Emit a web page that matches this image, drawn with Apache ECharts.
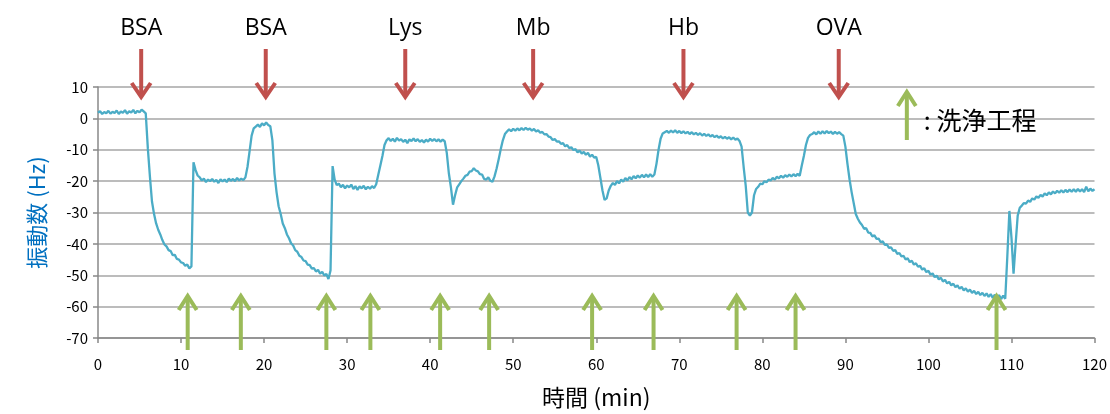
<!DOCTYPE html>
<html>
<head>
<meta charset="utf-8">
<script src="https://cdn.jsdelivr.net/npm/echarts@6/dist/echarts.min.js"></script>
<style>
html,body{margin:0;padding:0;background:#fff;}
#chart{width:1110px;height:414px;}
</style>
</head>
<body>
<div id="chart"></div>
<script>
// ---- data ----
const SAMPLE_START_MIN = 0;
const SAMPLE_STEP_MIN = 0.25;
// frequency shift (Hz), one row per minute (4 samples each)
const freqHz = [
  /*  0 */ 1.8, 2.3, 1.4, 2.0,
  /*  1 */ 1.6, 2.4, 1.5, 2.1,
  /*  2 */ 1.7, 2.5, 1.4, 2.2,
  /*  3 */ 1.8, 2.6, 1.5, 2.3,
  /*  4 */ 1.9, 2.7, 1.6, 2.4,
  /*  5 */ 1.9, 2.8, 2.2, 1.6,
  /*  6 */ -9.5, -18.5, -26.5, -30.5,
  /*  7 */ -33.5, -35.5, -37.0, -38.8,
  /*  8 */ -40.2, -40.8, -42.0, -42.3,
  /*  9 */ -43.6, -43.5, -44.8, -45.0,
  /* 10 */ -45.9, -46.1, -47.0, -46.6,
  /* 11 */ -47.8, -47.2, -14.0, -16.5,
  /* 12 */ -18.2, -18.8, -19.8, -19.2,
  /* 13 */ -20.3, -19.5, -20.0, -19.3,
  /* 14 */ -20.2, -19.6, -20.6, -19.4,
  /* 15 */ -20.1, -19.5, -20.3, -19.2,
  /* 16 */ -19.9, -19.3, -20.0, -19.0,
  /* 17 */ -19.8, -19.2, -19.7, -18.8,
  /* 18 */ -15.5, -10.5, -5.5, -3.2,
  /* 19 */ -2.6, -2.0, -2.7, -1.6,
  /* 20 */ -2.2, -1.3, -2.1, -2.5,
  /* 21 */ -7.0, -17.5, -23.5, -28.0,
  /* 22 */ -30.5, -33.5, -35.0, -37.0,
  /* 23 */ -38.2, -39.8, -40.5, -42.0,
  /* 24 */ -42.5, -43.8, -44.2, -45.3,
  /* 25 */ -45.5, -46.6, -46.8, -47.9,
  /* 26 */ -47.7, -48.8, -48.3, -49.5,
  /* 27 */ -48.9, -50.1, -49.6, -51.2,
  /* 28 */ -48.5, -15.2, -19.5, -21.3,
  /* 29 */ -20.8, -21.9, -21.2, -22.3,
  /* 30 */ -21.4, -22.0, -21.1, -22.5,
  /* 31 */ -21.6, -22.8, -21.7, -22.3,
  /* 32 */ -21.5, -22.6, -21.8, -22.4,
  /* 33 */ -21.6, -22.2, -21.0, -18.0,
  /* 34 */ -15.0, -12.0, -8.5, -7.0,
  /* 35 */ -6.3, -7.2, -6.5, -7.4,
  /* 36 */ -6.2, -7.1, -6.6, -7.5,
  /* 37 */ -6.8, -7.9, -6.7, -7.2,
  /* 38 */ -6.4, -7.3, -6.6, -7.5,
  /* 39 */ -6.9, -7.7, -6.8, -7.4,
  /* 40 */ -6.5, -7.2, -6.6, -7.3,
  /* 41 */ -6.7, -7.4, -6.8, -7.3,
  /* 42 */ -11.0, -17.5, -22.0, -27.5,
  /* 43 */ -24.5, -22.0, -21.0, -20.0,
  /* 44 */ -19.2, -18.3, -18.0, -17.0,
  /* 45 */ -16.8, -15.9, -16.6, -16.9,
  /* 46 */ -17.8, -17.9, -19.3, -19.5,
  /* 47 */ -18.8, -19.9, -20.2, -18.5,
  /* 48 */ -16.0, -13.0, -9.8, -7.0,
  /* 49 */ -5.0, -4.2, -3.5, -4.1,
  /* 50 */ -3.3, -3.9, -3.2, -3.8,
  /* 51 */ -3.1, -3.7, -3.0, -3.6,
  /* 52 */ -3.2, -3.9, -3.4, -4.2,
  /* 53 */ -3.8, -4.6, -4.3, -5.1,
  /* 54 */ -5.0, -5.8, -6.0, -6.9,
  /* 55 */ -6.6, -7.4, -7.3, -8.1,
  /* 56 */ -7.9, -8.9, -8.5, -9.5,
  /* 57 */ -9.2, -10.1, -9.8, -10.8,
  /* 58 */ -10.3, -11.2, -10.7, -11.6,
  /* 59 */ -11.0, -12.2, -11.6, -12.5,
  /* 60 */ -12.3, -15.0, -19.0, -23.0,
  /* 61 */ -26.0, -25.5, -23.0, -21.5,
  /* 62 */ -20.6, -21.2, -20.0, -20.7,
  /* 63 */ -19.5, -20.2, -19.0, -19.8,
  /* 64 */ -18.7, -19.4, -18.4, -19.1,
  /* 65 */ -18.2, -18.9, -18.0, -18.8,
  /* 66 */ -17.9, -18.7, -17.8, -18.6,
  /* 67 */ -17.9, -14.5, -10.0, -6.5,
  /* 68 */ -4.8, -4.4, -4.0, -4.6,
  /* 69 */ -3.9, -4.5, -3.8, -4.6,
  /* 70 */ -4.0, -4.7, -4.1, -4.8,
  /* 71 */ -4.3, -5.0, -4.4, -5.1,
  /* 72 */ -4.6, -5.3, -4.7, -5.5,
  /* 73 */ -4.9, -5.6, -5.1, -5.8,
  /* 74 */ -5.3, -6.0, -5.5, -6.2,
  /* 75 */ -5.7, -6.4, -5.9, -6.5,
  /* 76 */ -6.0, -6.7, -6.1, -6.8,
  /* 77 */ -6.4, -7.2, -9.0, -15.5,
  /* 78 */ -21.5, -30.0, -31.0, -30.0,
  /* 79 */ -24.5, -22.5, -21.8, -20.8,
  /* 80 */ -21.0, -20.0, -20.4, -19.5,
  /* 81 */ -19.8, -19.0, -19.5, -18.6,
  /* 82 */ -19.1, -18.3, -18.9, -18.1,
  /* 83 */ -18.6, -17.9, -18.5, -17.8,
  /* 84 */ -18.4, -17.7, -18.3, -15.0,
  /* 85 */ -12.0, -8.5, -6.2, -5.3,
  /* 86 */ -5.0, -4.4, -5.1, -4.2,
  /* 87 */ -4.9, -4.1, -4.8, -4.0,
  /* 88 */ -4.7, -4.2, -5.0, -4.3,
  /* 89 */ -4.9, -4.4, -5.0, -5.5,
  /* 90 */ -9.0, -14.5, -19.4, -23.5,
  /* 91 */ -27.0, -30.5, -32.0, -33.2,
  /* 92 */ -34.0, -35.2, -35.0, -36.4,
  /* 93 */ -36.5, -37.6, -37.3, -38.4,
  /* 94 */ -38.3, -39.5, -39.2, -40.3,
  /* 95 */ -40.2, -41.3, -41.1, -42.2,
  /* 96 */ -42.0, -43.2, -42.9, -44.0,
  /* 97 */ -43.8, -45.0, -44.6, -45.8,
  /* 98 */ -45.4, -46.6, -46.2, -47.3,
  /* 99 */ -47.0, -48.2, -47.8, -49.0,
  /*100 */ -48.6, -49.8, -49.4, -50.6,
  /*101 */ -50.1, -51.3, -50.8, -52.0,
  /*102 */ -51.5, -52.6, -52.1, -53.2,
  /*103 */ -52.7, -53.8, -53.2, -54.3,
  /*104 */ -53.7, -54.8, -54.2, -55.2,
  /*105 */ -54.6, -55.6, -55.0, -56.0,
  /*106 */ -55.3, -56.3, -55.6, -56.6,
  /*107 */ -55.8, -56.9, -56.0, -57.2,
  /*108 */ -56.2, -57.4, -56.3, -57.6,
  /*109 */ -56.5, -57.5, -44.0, -29.5,
  /*110 */ -38.0, -49.5, -40.0, -31.0,
  /*111 */ -28.5, -27.8, -27.0, -27.2,
  /*112 */ -26.2, -26.6, -25.5, -25.9,
  /*113 */ -24.9, -25.3, -24.4, -24.9,
  /*114 */ -23.9, -24.5, -23.6, -24.2,
  /*115 */ -23.3, -23.9, -23.1, -23.7,
  /*116 */ -22.9, -23.6, -22.8, -23.5,
  /*117 */ -22.7, -23.4, -22.6, -23.4,
  /*118 */ -22.5, -23.3, -22.6, -23.5,
  /*119 */ -21.8, -23.2, -22.4, -23.1,
  /*120 */ -22.6
];

// sample injections (red arrows)
const sampleNames = ['BSA', 'BSA', 'Lys', 'Mb', 'Hb', 'OVA'];
const sampleTimes = [5.2, 20.2, 37.0, 52.4, 70.5, 89.2];
// washing steps (green arrows)
const washTimes = [10.8, 17.2, 27.5, 32.8, 41.2, 47.1, 59.5, 66.9, 76.9, 84.0, 108.2];

const xTicks = { min: 0, max: 120, interval: 10 };
const yTicks = { min: -70, max: 10, interval: 10 };
const xAxisTitle = '時間 (min)';
const yAxisTitle = '振動数 (Hz)';
const legendText = ': 洗浄工程';

// ---- styles ----
const RED = '#C0504D';
const GREEN = '#9BBB59';
const LINE = '#4BACC6';
const FONT = '"Open Sans", Lato, "Noto Sans CJK JP", sans-serif';
const JFONT = '"Noto Sans CJK JP", sans-serif';

const traceData = freqHz.map((v, i) => [SAMPLE_START_MIN + i * SAMPLE_STEP_MIN, v]);

function arrow(x, yTip, yTail, color, headW, headH, lw) {
  const dir = yTip > yTail ? 1 : -1;
  return [
    { type: 'line', shape: { x1: x, y1: yTail, x2: x, y2: yTip - dir * 2 },
      style: { stroke: color, lineWidth: lw } },
    { type: 'polyline',
      shape: { points: [[x - headW / 2, yTip - dir * headH], [x, yTip], [x + headW / 2, yTip - dir * headH]] },
      style: { stroke: color, lineWidth: lw, fill: null, lineJoin: 'miter' } }
  ];
}

const chart = echarts.init(document.getElementById('chart'), null, { renderer: 'canvas' });
chart.setOption({
  animation: false,
  backgroundColor: '#fff',
  grid: { left: 98, right: 14, top: 87, bottom: 74 },
  xAxis: {
    type: 'value', min: xTicks.min, max: xTicks.max, interval: xTicks.interval,
    axisLine: { show: true, onZero: false, lineStyle: { color: '#888', width: 1.5 } },
    axisTick: { show: true, length: 5, lineStyle: { color: '#888', width: 1.5 } },
    axisLabel: { color: '#000', fontSize: 15, fontFamily: JFONT, margin: 19 },
    splitLine: { show: false },
    name: xAxisTitle, nameLocation: 'middle', nameGap: 48,
    nameTextStyle: { color: '#000', fontSize: 23, fontFamily: JFONT }
  },
  yAxis: {
    type: 'value', min: yTicks.min, max: yTicks.max, interval: yTicks.interval,
    axisLine: { show: true, lineStyle: { color: '#888', width: 1.5 } },
    axisTick: { show: true, length: 5, lineStyle: { color: '#888', width: 1.5 } },
    axisLabel: { color: '#000', fontSize: 15, fontFamily: JFONT, margin: 10 },
    splitLine: { show: true, lineStyle: { color: '#A6A6A6', width: 1.5 } },
    name: yAxisTitle, nameLocation: 'middle', nameGap: 50, nameRotate: 90,
    nameTextStyle: { color: '#0070C0', fontSize: 22, fontFamily: JFONT }
  },
  series: [
    {
      type: 'line', data: traceData, showSymbol: false, symbol: 'none',
      lineStyle: { color: LINE, width: 2.3 }, z: 2
    },
    {
      type: 'custom', clip: false, z: 5,
      data: sampleTimes.map((t, i) => [t, sampleNames[i]]),
      renderItem: function (params, api) {
        const p = api.coord([api.value(0), yTicks.max]);
        const x = p[0], top = p[1];
        return {
          type: 'group',
          children: arrow(x, top + 10, top - 38, RED, 19, 14, 4).concat([{
            type: 'text',
            style: { text: sampleNames[params.dataIndex], x: x, y: top - 59,
              align: 'center', verticalAlign: 'middle', fill: '#000',
              font: '23px ' + FONT }
          }])
        };
      }
    },
    {
      type: 'custom', clip: false, z: 6,
      data: washTimes.map(t => [t]),
      renderItem: function (params, api) {
        const p = api.coord([api.value(0), yTicks.min]);
        const x = p[0], bottom = p[1];
        return { type: 'group', children: arrow(x, bottom - 42, bottom + 12, GREEN, 18, 14, 4) };
      }
    },
    {
      type: 'custom', clip: false, z: 6,
      data: [[97.4]],
      renderItem: function (params, api) {
        const p = api.coord([api.value(0), yTicks.max]);
        const x = p[0], top = p[1];
        return {
          type: 'group',
          children: arrow(x, top + 5, top + 53, GREEN, 18, 14, 4).concat([{
            type: 'text',
            style: { text: legendText, x: x + 17, y: top + 33, align: 'left', verticalAlign: 'middle',
              fill: '#000', font: '25px ' + JFONT }
          }])
        };
      }
    }
  ]
});
</script>
</body>
</html>
